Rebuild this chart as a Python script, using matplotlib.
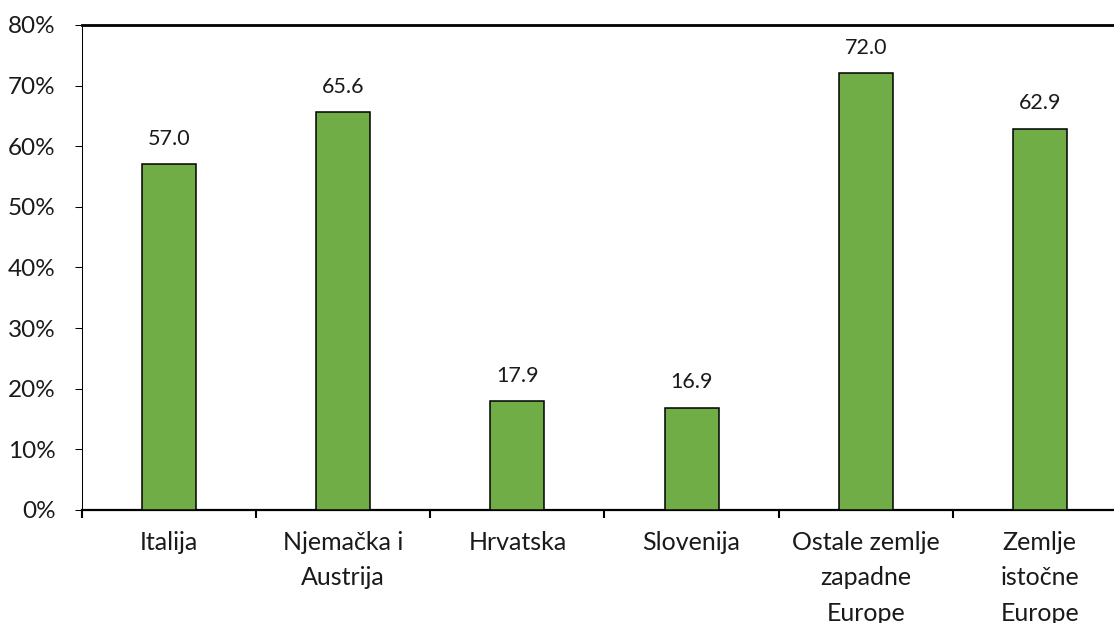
import numpy as np
import matplotlib.pyplot as plt
from matplotlib.ticker import FixedLocator, PercentFormatter

categories = ['Italija', 'Njemačka i\nAustrija', 'Hrvatska', 'Slovenija',
              'Ostale zemlje\nzapadne\nEurope', 'Zemlje\nistočne\nEurope']
values = [57.0, 65.6, 17.9, 16.9, 72.0, 62.9]
yticks = [0, 10, 20, 30, 40, 50, 60, 70, 80]

plt.rcParams['font.family'] = ['Lato', 'DejaVu Sans']

fig = plt.figure(figsize=(11.14, 6.23), dpi=100)
ax = fig.add_axes([0.0736, 0.1814, 0.938, 0.7785])

x = np.arange(len(categories))
bars = ax.bar(x, values, width=0.31, color='#70AD47', edgecolor='black',
              linewidth=1.1, zorder=3)

for xi, v in zip(x, values):
    ax.annotate(f'{v:.1f}', (xi, v), xytext=(0, 14), textcoords='offset points',
                ha='center', va='baseline', fontsize=15.5, color='#1a1a1a')

ax.set_xlim(-0.5, len(categories) - 0.5)
ax.set_ylim(0, 80)
ax.set_yticks(yticks)
ax.yaxis.set_major_formatter(PercentFormatter(decimals=0))
ax.tick_params(axis='y', length=5, width=0.75, pad=14, labelsize=17.5,
               labelcolor='#1a1a1a')

ax.set_xticks(x)
ax.set_xticklabels(categories, linespacing=1.65)
ax.xaxis.set_minor_locator(FixedLocator(np.arange(-0.5, len(categories), 1.0)))
ax.tick_params(axis='x', which='major', length=0, pad=15, labelsize=18,
               labelcolor='#1a1a1a')
ax.tick_params(axis='x', which='minor', length=6, width=1.5)

ax.spines['right'].set_visible(False)
ax.spines['top'].set_linewidth(2)
ax.spines['bottom'].set_linewidth(1.6)
ax.spines['left'].set_linewidth(0.75)

plt.savefig('out.png', dpi=100)
